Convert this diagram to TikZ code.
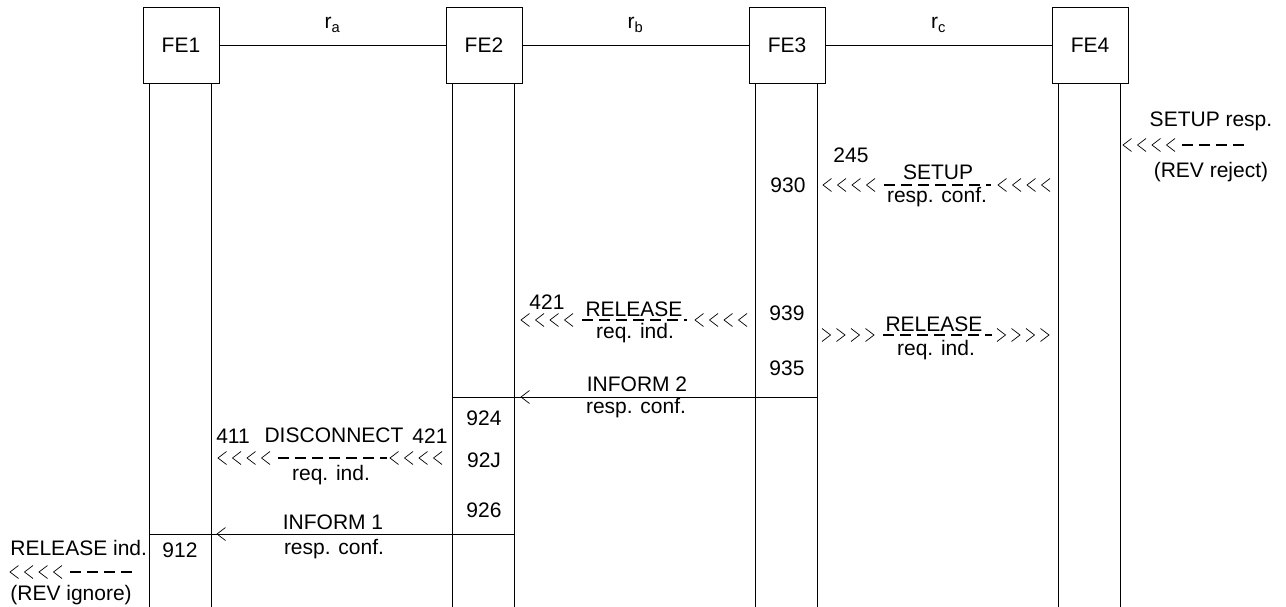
\documentclass[tikz,border=0pt]{standalone}
\usepackage{fontspec}
\setmainfont{Liberation Sans}
\usetikzlibrary{positioning}

\tikzset{
  fe/.style={draw, minimum size=76pt, inner sep=0pt},
  txt/.style={anchor=base, inner sep=0pt},
  dashline/.style={line width=1.1pt, dash pattern=on 11pt off 6pt},
  chev/.style={line width=0.7pt},
  lchev/.pic={\draw[chev] (8.5,-6.5) -- (0,0) -- (8.5,6.5);},
  rchev/.pic={\draw[chev] (0,-6.5) -- (8.5,0) -- (0,6.5);},
}
\newcommand{\lchevs}[2]{\foreach \i in {0,...,3} \pic at ({#1+14.5*\i},#2) {lchev};}
\newcommand{\rchevs}[2]{\foreach \i in {0,...,3} \pic at ({#1+14.5*\i},#2) {rchev};}

\begin{document}
\begin{tikzpicture}[x=1pt, y=-1pt, line width=0.8pt, font=\fontsize{21}{25}\selectfont]
  \useasboundingbox (0,0) rectangle (1286,607);
  \node[fe] (fe1) at (181,45) {FE1};
  \node[fe] (fe2) at (484,45) {FE2};
  \node[fe] (fe3) at (787,45) {FE3};
  \node[fe] (fe4) at (1090,45) {FE4};
  \draw (fe1) -- (fe2) node[midway, txt, yshift=16pt] (ra) {r\textsubscript{a}};
  \draw (fe2) -- (fe3) node[midway, txt, yshift=16pt] (rb) {r\textsubscript{b}};
  \draw (fe3) -- (fe4) node[midway, txt, yshift=16pt] (rc) {r\textsubscript{c}};
  \foreach \n in {1,...,4} {
    \draw ([xshift=7pt]fe\n.south west) -- ++(0,524);
    \draw ([xshift=-8pt]fe\n.south east) -- ++(0,524);
  }

  \node[txt] (setupresp) at (1211,127) {SETUP resp.};
  \lchevs{1123}{145}
  \coordinate (rj1) at (1182,145);
  \coordinate (rj2) at (1250,145);
  \draw[dashline] (rj1) -- (rj2);
  \node[txt] (revrej) at (1211,178) {(REV reject)};

  \node[txt] (n245) at (851,163) {245};
  \node[txt] (n930) at (788,193) {930};
  \node[txt] (setup) at (938,179) {SETUP};
  \node[txt] (setupc) at (937,203) {resp. conf.};
  \lchevs{823}{185}
  \lchevs{998}{185}
  \coordinate (su1) at (884,185);
  \coordinate (su2) at (991,185);
  \draw[dashline] (su1) -- (su2);

  \node[txt] (n421a) at (547,309) {421};
  \node[txt] (rel1) at (634,316) {RELEASE};
  \node[txt] (rel1b) at (635,338) {req. ind.};
  \lchevs{521}{320}
  \lchevs{695}{320}
  \coordinate (rl1) at (582,320);
  \coordinate (rl2) at (687,320);
  \draw[dashline] (rl1) -- (rl2);
  \node[txt] (n939) at (787,320) {939};

  \node[txt] (rel2) at (934,331) {RELEASE};
  \node[txt] (rel2b) at (936,355) {req. ind.};
  \rchevs{822}{335}
  \rchevs{997}{335}
  \coordinate (rr1) at (883,335);
  \coordinate (rr2) at (992,335);
  \draw[dashline] (rr1) -- (rr2);
  \node[txt] (n935) at (787,375) {935};

  \node[txt] (inf2) at (637,391) {INFORM 2};
  \node[txt] (inf2b) at (636,413) {resp. conf.};
  \coordinate (i2a) at (817,397);
  \coordinate (i2b) at (453,397);
  \draw (i2a) -- (i2b);
  \pic at (521,397) {lchev};

  \node[txt] (n924) at (484,425) {924};
  \node[txt] (n92j) at (484,467) {92J};
  \node[txt] (n926) at (484,517) {926};

  \node[txt] (n411) at (233,443) {411};
  \node[txt] (disc) at (334,442) {DISCONNECT};
  \node[txt] (n421b) at (430,443) {421};
  \node[txt] (discb) at (331,480) {req. ind.};
  \lchevs{218}{458}
  \lchevs{390}{458}
  \coordinate (dc1) at (278,458);
  \coordinate (dc2) at (387,458);
  \draw[dashline] (dc1) -- (dc2);

  \node[txt] (inf1) at (333,529) {INFORM 1};
  \node[txt] (inf1b) at (334,554) {resp. conf.};
  \coordinate (i1a) at (514,534);
  \coordinate (i1b) at (150,534);
  \draw (i1a) -- (i1b);
  \pic at (217,534) {lchev};
  \node[txt] (n912) at (180,557) {912};

  \node[txt, anchor=base west] (relind) at (10,555) {RELEASE ind.};
  \lchevs{10}{572}
  \coordinate (ig1) at (70,572);
  \coordinate (ig2) at (138,572);
  \draw[dashline] (ig1) -- (ig2);
  \node[txt, anchor=base west] (revign) at (10,600) {(REV ignore)};
\end{tikzpicture}
\end{document}
